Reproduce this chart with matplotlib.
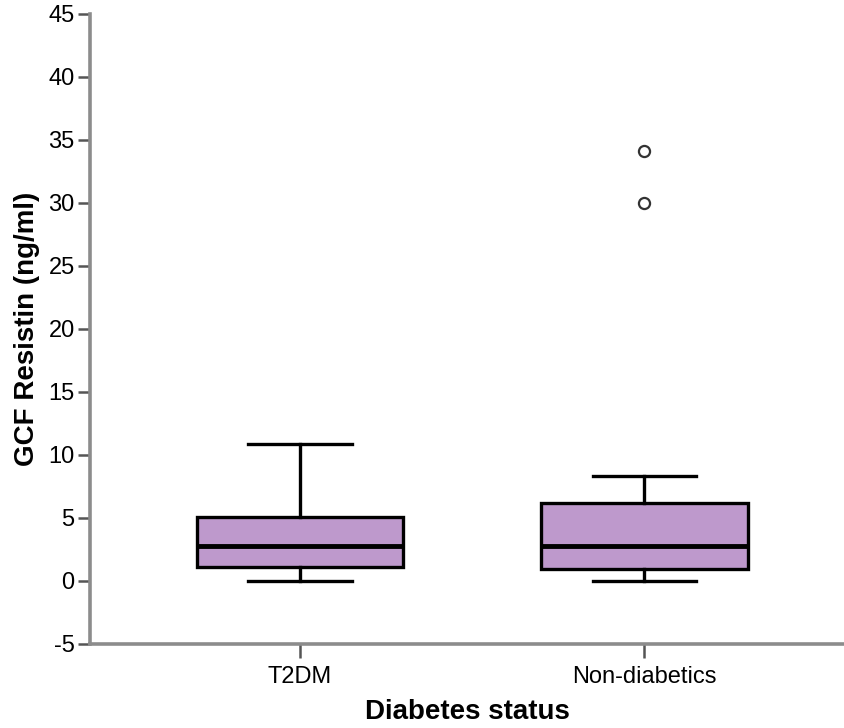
import matplotlib.pyplot as plt

plt.rcParams['font.family'] = ['Liberation Sans', 'DejaVu Sans']
plt.rcParams['axes.unicode_minus'] = False

groups   = ['T2DM', 'Non-diabetics']
q1       = [1.14, 0.95]
medians  = [2.78, 2.78]
q3       = [5.06, 6.18]
whis_lo  = [0.0, 0.0]
whis_hi  = [10.89, 8.29]
outliers = [[], [34.08, 29.97]]

stats = []
for i in range(len(groups)):
    stats.append(dict(label=groups[i], q1=q1[i], med=medians[i], q3=q3[i],
                      whislo=whis_lo[i], whishi=whis_hi[i], fliers=outliers[i]))

fig = plt.figure(figsize=(8.44, 7.28), dpi=100)
ax = fig.add_axes([90/844, 1 - 644/728, 1 - 90/844, (644 - 13.5)/728])

ax.bxp(stats, positions=[1, 2], widths=0.6, patch_artist=True,
       boxprops=dict(facecolor='#be99cc', edgecolor='black', linewidth=2.4),
       medianprops=dict(color='black', linewidth=3.5),
       whiskerprops=dict(color='black', linewidth=2.4),
       capprops=dict(color='black', linewidth=2.4),
       capwidths=0.3,
       flierprops=dict(marker='o', markersize=8, markerfacecolor='white',
                       markeredgecolor='#333333', markeredgewidth=1.6))

ax.set_xlim(0.39, 2.58)
ax.set_ylim(-5, 45)
ax.set_yticks(range(-5, 50, 5))

for s in ['top', 'right']:
    ax.spines[s].set_visible(False)
for s in ['left', 'bottom']:
    ax.spines[s].set_color('#8c8c8c')
    ax.spines[s].set_linewidth(2.6)

ax.tick_params(axis='y', length=9, width=1.8, color='#555555', labelsize=17, pad=2)
ax.tick_params(axis='x', length=10, width=1.8, color='#555555', labelsize=17, pad=6)
for lab in ax.get_yticklabels():
    lab.set_fontweight('medium')

ax.set_xlabel('Diabetes status', fontsize=20, fontweight='bold', labelpad=8)
ax.set_ylabel('GCF Resistin (ng/ml)', fontsize=20, fontweight='bold', labelpad=6)

fig.savefig('out.png', dpi=100)
